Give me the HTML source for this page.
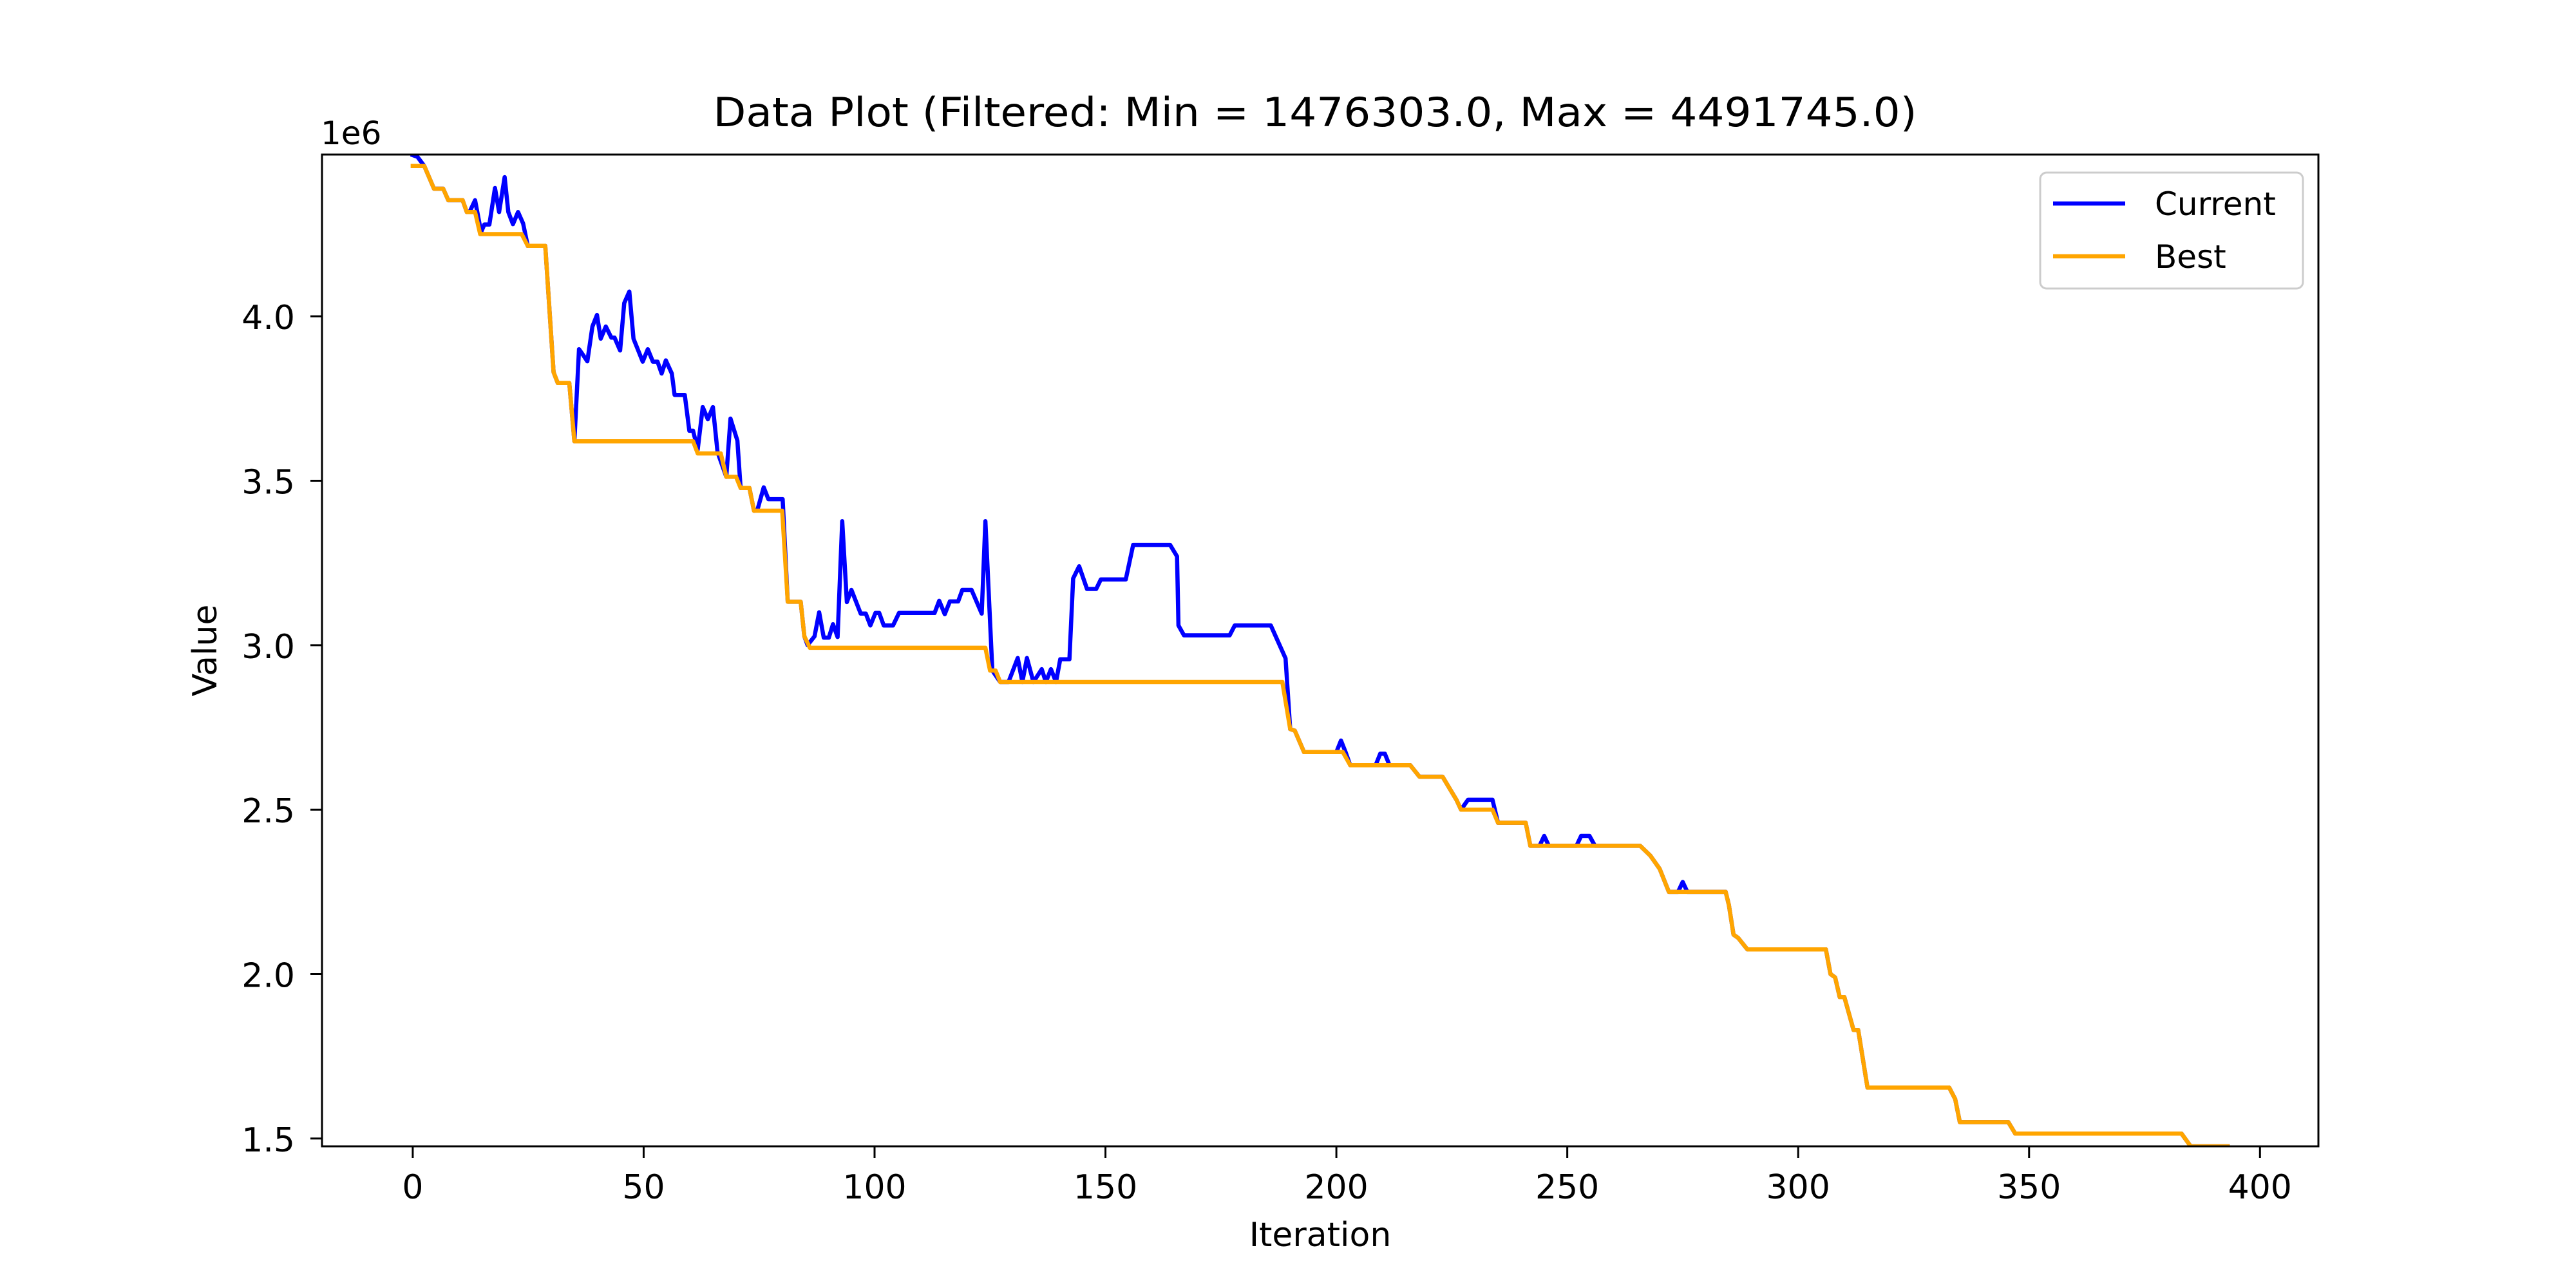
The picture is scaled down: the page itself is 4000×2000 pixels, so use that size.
<!DOCTYPE html>
<html><head><meta charset="utf-8">
<style>
html,body{margin:0;padding:0;background:#fff;}
svg{display:block;font-family:"DejaVu Sans","Liberation Sans",sans-serif;}
</style></head>
<body>
<svg id="chart" width="4000" height="2000" viewBox="0 0 4000 2000" xmlns="http://www.w3.org/2000/svg">
<rect width="4000" height="2000" fill="#fff"/>
<defs><clipPath id="clip"><rect x="500" y="240" width="3100" height="1540"/></clipPath></defs>
<g id="grid-ticks"></g>
<g clip-path="url(#clip)" id="series"></g>
<rect x="500" y="240" width="3100" height="1540" fill="none" stroke="#000" stroke-width="3"/>
<text x="2042" y="196" font-size="62" text-anchor="middle" textLength="1869" lengthAdjust="spacingAndGlyphs">Data Plot (Filtered: Min = 1476303.0, Max = 4491745.0)</text>
<text x="498" y="224" font-size="50">1e6</text>
<text x="2050" y="1935" font-size="52" text-anchor="middle">Iteration</text>
<text x="0" y="0" font-size="52" text-anchor="middle" transform="translate(336,1010) rotate(-90)">Value</text>
<g>
<rect x="3168" y="268" width="408" height="180" rx="10" fill="#fff" fill-opacity="0.8" stroke="#ccc" stroke-width="3"/>
<line x1="3188" y1="316" x2="3300" y2="316" stroke="#0000ff" stroke-width="6.5"/>
<text x="3346" y="334" font-size="50">Current</text>
<line x1="3188" y1="398" x2="3300" y2="398" stroke="#ffa500" stroke-width="6.5"/>
<text x="3346" y="416" font-size="50">Best</text>
</g>
</svg>
<script>
const xTicks = [0,50,100,150,200,250,300,350,400];
const yTicks = [1.5,2.0,2.5,3.0,3.5,4.0];
const yTickLabels = ["1.5","2.0","2.5","3.0","3.5","4.0"];
const yMin = 1.476303, yMax = 4.491745;
const xMin = -19.65, xMax = 412.65;

const bestIter = [0,2.5,4.6,6.6,7.7,10.8,11.7,13.5,14.6,23.6,24.9,28.7,30.5,31.4,33.9,35,60.7,61.7,66.7,67.9,70,71,72.9,73.9,80,81.2,84,84.8,86,124,125,126.2,127.2,188.3,190,191,193,201.4,203,216,218,223,226,227,233.8,235,241,242,265.8,268,269,270,272,284.3,285,286,287,289,306,307,308,309,310,312,313,315,332.7,334,335,345.5,347,383,385,393];
const bestVal = [4.457,4.457,4.388,4.388,4.353,4.353,4.317,4.317,4.25,4.25,4.214,4.214,3.83,3.797,3.797,3.62,3.62,3.583,3.583,3.512,3.512,3.478,3.478,3.409,3.409,3.132,3.132,3.027,2.992,2.992,2.923,2.923,2.888,2.888,2.745,2.74,2.675,2.675,2.635,2.635,2.6,2.6,2.53,2.5,2.5,2.46,2.46,2.39,2.39,2.36,2.34,2.32,2.25,2.25,2.21,2.12,2.11,2.075,2.075,2.0,1.99,1.93,1.93,1.83,1.83,1.655,1.655,1.62,1.55,1.55,1.515,1.515,1.4763,1.4763];

const curIter = [0,1,2.5,4.6,6.6,7.7,10.8,11.7,12.3,13.5,14.8,15.5,16.6,17.8,18.7,19.9,20.7,21.7,22.8,23.9,24.9,28.7,30.5,31.4,33.9,35,36,37,37.8,38.9,39.9,40.7,41.8,43,43.7,44.9,45.8,46.9,47.8,49.8,50.9,52,53,53.9,54.8,56.1,56.7,58.9,59.9,60.7,61.7,62.8,63.9,65,66,67.9,68.8,70.3,71,72.9,73.9,74.6,76,77,80.1,81.2,84,84.8,85.5,87,88,89,90.1,91,92,93,94,95,97,98.1,99.1,100.2,101,102,104,105.3,113,114,115.2,116.3,118.1,119,121,123.2,124,125.5,127.2,129,131,132,133,134.4,136.2,137.1,138.2,139.3,140.2,142.2,143,144.3,146,148,149,154.4,156,164,165.5,165.8,167,176.9,178,185.8,189,190,191,193,200,201,202,203,208.5,209.5,210.5,211.5,216,218,223,226,227,228.5,233.8,235,241,242,244,245,246,252,253,254.8,256,265.8,268,269,270,272,274,275,276,284.3,285,286,287,289,306,307,308,309,310,312,313,315,332.7,334,335,345.5,347,383,385,393];
const curVal = [4.49,4.485,4.457,4.388,4.388,4.353,4.353,4.317,4.317,4.353,4.256,4.279,4.279,4.39,4.317,4.423,4.317,4.28,4.317,4.282,4.214,4.214,3.83,3.797,3.797,3.62,3.9,3.88,3.863,3.969,4.004,3.932,3.969,3.935,3.935,3.896,4.04,4.075,3.932,3.862,3.9,3.862,3.862,3.826,3.866,3.826,3.761,3.761,3.652,3.652,3.595,3.724,3.687,3.724,3.587,3.512,3.689,3.622,3.478,3.478,3.409,3.41,3.48,3.444,3.444,3.132,3.132,3.027,3.0,3.027,3.10,3.023,3.023,3.064,3.025,3.377,3.131,3.168,3.096,3.096,3.06,3.098,3.098,3.06,3.06,3.098,3.098,3.135,3.094,3.133,3.133,3.168,3.168,3.096,3.377,2.923,2.888,2.888,2.961,2.888,2.961,2.888,2.927,2.888,2.927,2.888,2.957,2.957,3.203,3.24,3.171,3.171,3.20,3.20,3.305,3.305,3.27,3.06,3.03,3.03,3.06,3.06,2.96,2.745,2.74,2.675,2.675,2.71,2.675,2.635,2.635,2.67,2.67,2.635,2.635,2.6,2.6,2.53,2.5,2.53,2.53,2.46,2.46,2.39,2.39,2.42,2.39,2.39,2.42,2.42,2.39,2.39,2.36,2.34,2.32,2.25,2.25,2.28,2.25,2.25,2.21,2.12,2.11,2.075,2.075,2.0,1.99,1.93,1.93,1.83,1.83,1.655,1.655,1.62,1.55,1.55,1.515,1.515,1.4763,1.4763];

const L=500,R=3600,T=240,B=1780;
function xs(v){return L+(v-xMin)/(xMax-xMin)*(R-L);}
function ys(v){return B-(v-yMin)/(yMax-yMin)*(B-T);}
const NS="http://www.w3.org/2000/svg";
const tg=document.getElementById('grid-ticks');
xTicks.forEach(function(t){
  const l=document.createElementNS(NS,'line');
  l.setAttribute('x1',xs(t));l.setAttribute('x2',xs(t));l.setAttribute('y1',B);l.setAttribute('y2',B+18);
  l.setAttribute('stroke','#000');l.setAttribute('stroke-width','3');
  
  
  tg.appendChild(l);
  const tx=document.createElementNS(NS,'text');
  tx.setAttribute('x',xs(t));tx.setAttribute('y',B+81);tx.setAttribute('font-size','52');tx.setAttribute('text-anchor','middle');
  tx.textContent=String(t);
  
  
  tg.appendChild(tx);
});
yTicks.forEach(function(t,i){
  const l=document.createElementNS(NS,'line');
  l.setAttribute('x1',L-18);l.setAttribute('x2',L);l.setAttribute('y1',ys(t));l.setAttribute('y2',ys(t));
  l.setAttribute('stroke','#000');l.setAttribute('stroke-width','3');
  
  
  tg.appendChild(l);
  const tx=document.createElementNS(NS,'text');
  tx.setAttribute('x',L-42);tx.setAttribute('y',ys(t)+20);tx.setAttribute('font-size','52');tx.setAttribute('text-anchor','end');
  tx.textContent=yTickLabels[i];
  
  
  tg.appendChild(tx);
});
const sg=document.getElementById('series');
function drawLine(xa,ya,color,name){
  const p=document.createElementNS(NS,'polyline');
  p.setAttribute('points',xa.map(function(x,i){return xs(x).toFixed(1)+','+ys(ya[i]).toFixed(1);}).join(' '));
  p.setAttribute('fill','none');p.setAttribute('stroke',color);p.setAttribute('stroke-width','6.5');
  p.setAttribute('stroke-linejoin','round');p.setAttribute('stroke-linecap','square');
  
  
  sg.appendChild(p);
}
drawLine(curIter,curVal,'#0000ff','current-line');
drawLine(bestIter,bestVal,'#ffa500','best-line');
</script>
</body></html>
